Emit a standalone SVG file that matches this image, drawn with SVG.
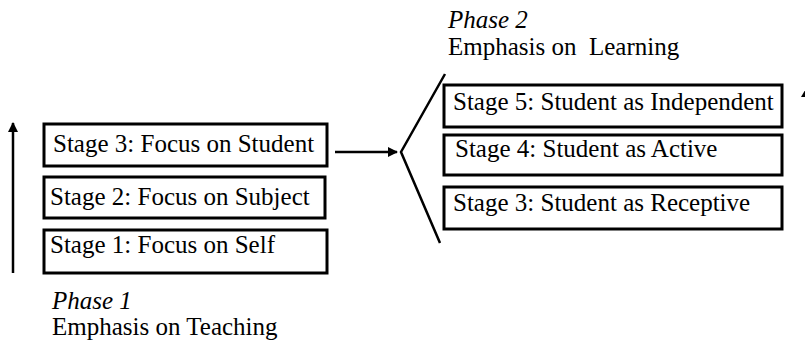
<svg xmlns="http://www.w3.org/2000/svg" width="805" height="346" viewBox="0 0 805 346">
<style>
.box{fill:#fff;stroke:#000;stroke-width:3}
.t{font-family:"Liberation Serif","Times New Roman",serif;font-size:25px;fill:#000;white-space:pre}
.i{font-style:italic}
.ln{fill:none;stroke:#000;stroke-width:2.5}
</style>
<defs>
<marker id="ah" viewBox="0 0 10 10" refX="9" refY="5" markerWidth="4" markerHeight="4" orient="auto" markerUnits="strokeWidth">
<path d="M0,0 L10,5 L0,10 Z" fill="#000"/>
</marker>
</defs>
<rect width="805" height="346" fill="#fff"/>
<g id="connectors">
<line class="ln" x1="13" y1="273" x2="13" y2="123" marker-end="url(#ah)"/>
<line class="ln" x1="335" y1="152" x2="397" y2="152" marker-end="url(#ah)"/>
<polyline class="ln" points="445,74 401,152 440,243"/>
<polygon points="808,85 801,97 815,97" fill="#000"/>
</g>
<g id="phase1-label">
<text class="t i" x="52" y="309">Phase 1</text>
<text class="t" x="52" y="335">Emphasis on Teaching</text>
</g>
<g id="phase2-label">
<text class="t i" x="448" y="28">Phase 2</text>
<text class="t" x="448" y="55">Emphasis on  Learning</text>
</g>
<g id="p1-stage3">
<rect class="box" x="44" y="124" width="283" height="42"/>
<text class="t" x="53" y="152">Stage 3: Focus on Student</text>
</g>
<g id="p1-stage2">
<rect class="box" x="44" y="177" width="281" height="41"/>
<text class="t" x="50" y="205">Stage 2: Focus on Subject</text>
</g>
<g id="p1-stage1">
<rect class="box" x="44" y="230" width="283" height="43"/>
<text class="t" x="50" y="253">Stage 1: Focus on Self</text>
</g>
<g id="p2-stage5">
<rect class="box" x="444" y="85" width="338" height="42"/>
<text class="t" x="453" y="110">Stage 5: Student as Independent</text>
</g>
<g id="p2-stage4">
<rect class="box" x="444" y="135" width="338" height="40"/>
<text class="t" x="455" y="157">Stage 4: Student as Active</text>
</g>
<g id="p2-stage3">
<rect class="box" x="444" y="187" width="338" height="42"/>
<text class="t" x="453" y="211">Stage 3: Student as Receptive</text>
</g>
</svg>
